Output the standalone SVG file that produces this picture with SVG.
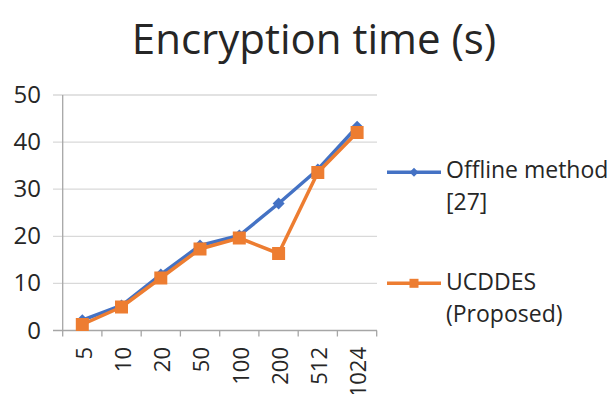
<svg xmlns="http://www.w3.org/2000/svg" width="611" height="394" viewBox="0 0 611 394">
<style>
text{font-family:"Open Sans","Liberation Sans",sans-serif;fill:#262626}
.grid{stroke:#d9d9d9;stroke-width:1.3}
.ax{stroke:#a6a6a6;stroke-width:1.3}
.yl{font-size:24px;text-anchor:end}
.xl{font-size:22px;text-anchor:end}
.lg{font-size:23px}
.blue{fill:none;stroke:#4472c4;stroke-width:3.5;stroke-linejoin:round}
.orange{fill:none;stroke:#ed7d31;stroke-width:3.5;stroke-linejoin:round}
</style>
<defs>
<path id="dia" d="M0,-6 L6,0 L0,6 L-6,0 Z" fill="#4472c4"/>
<rect id="sq" x="-6.5" y="-6.5" width="13" height="13" fill="#ed7d31"/>
</defs>
<rect width="611" height="394" fill="#fff"/>
<text x="314" y="54" font-size="42" text-anchor="middle">Encryption time (s)</text>
<g id="gridlines">
<line class="grid" x1="53" y1="95" x2="377" y2="95"/>
<line class="grid" x1="53" y1="142.1" x2="377" y2="142.1"/>
<line class="grid" x1="53" y1="189.2" x2="377" y2="189.2"/>
<line class="grid" x1="53" y1="236.3" x2="377" y2="236.3"/>
<line class="grid" x1="53" y1="283.4" x2="377" y2="283.4"/>
</g>
<g id="axes">
<line class="ax" x1="62.7" y1="95" x2="62.7" y2="330.5"/>
<line class="ax" x1="53" y1="330.5" x2="377" y2="330.5"/>
<path class="ax" d="M62.7,330.5v6M101.9,330.5v6M141.2,330.5v6M180.4,330.5v6M219.7,330.5v6M258.9,330.5v6M298.2,330.5v6M337.4,330.5v6M376.7,330.5v6"/>
</g>
<g id="y-labels">
<text class="yl" x="41" y="103">50</text>
<text class="yl" x="41" y="150">40</text>
<text class="yl" x="41" y="197">30</text>
<text class="yl" x="41" y="244">20</text>
<text class="yl" x="41" y="291">10</text>
<text class="yl" x="41" y="338.5">0</text>
</g>
<g id="x-labels">
<text class="xl" transform="translate(91.5,347) rotate(-90)">5</text>
<text class="xl" transform="translate(130.8,347) rotate(-90)">10</text>
<text class="xl" transform="translate(170,347) rotate(-90)">20</text>
<text class="xl" transform="translate(209.3,347) rotate(-90)">50</text>
<text class="xl" transform="translate(248.5,347) rotate(-90)">100</text>
<text class="xl" transform="translate(287.8,347) rotate(-90)">200</text>
<text class="xl" transform="translate(327,347) rotate(-90)">512</text>
<text class="xl" transform="translate(366.3,347) rotate(-90)">1024</text>
</g>
<g id="connectors">
<polyline class="blue" points="82.3,320.2 121.5,305.5 160.8,274.5 200,245.5 239.3,235.5 278.6,203.5 317.8,169.5 357.1,126.8"/>
<polyline class="orange" points="82.3,324.5 121.5,307 160.8,278 200,249 239.3,238 278.6,253.5 317.8,172.5 357.1,132.5"/>
</g>
<g id="series-offline">
<use href="#dia" x="82.3" y="320.2"/>
<use href="#dia" x="121.5" y="305.5"/>
<use href="#dia" x="160.8" y="274.5"/>
<use href="#dia" x="200" y="245.5"/>
<use href="#dia" x="239.3" y="235.5"/>
<use href="#dia" x="278.6" y="203.5"/>
<use href="#dia" x="317.8" y="169.5"/>
<use href="#dia" x="357.1" y="126.8"/>
</g>
<g id="series-ucddes">
<use href="#sq" x="82.3" y="324.5"/>
<use href="#sq" x="121.5" y="307"/>
<use href="#sq" x="160.8" y="278"/>
<use href="#sq" x="200" y="249"/>
<use href="#sq" x="239.3" y="238"/>
<use href="#sq" x="278.6" y="253.5"/>
<use href="#sq" x="317.8" y="172.5"/>
<use href="#sq" x="357.1" y="132.5"/>
</g>
<g id="legend">
<line x1="387" y1="172.3" x2="441" y2="172.3" stroke="#4472c4" stroke-width="3.5"/>
<path d="M414,167.8 L418.5,172.3 L414,176.8 L409.5,172.3 Z" fill="#4472c4"/>
<text class="lg" x="446" y="177.5">Offline method</text>
<text class="lg" x="446" y="209.5">[27]</text>
<line x1="387" y1="283.3" x2="441" y2="283.3" stroke="#ed7d31" stroke-width="3.5"/>
<rect x="409.5" y="278.8" width="9" height="9" fill="#ed7d31"/>
<text class="lg" x="446" y="289.5">UCDDES</text>
<text class="lg" x="446" y="321.5">(Proposed)</text>
</g>
</svg>
